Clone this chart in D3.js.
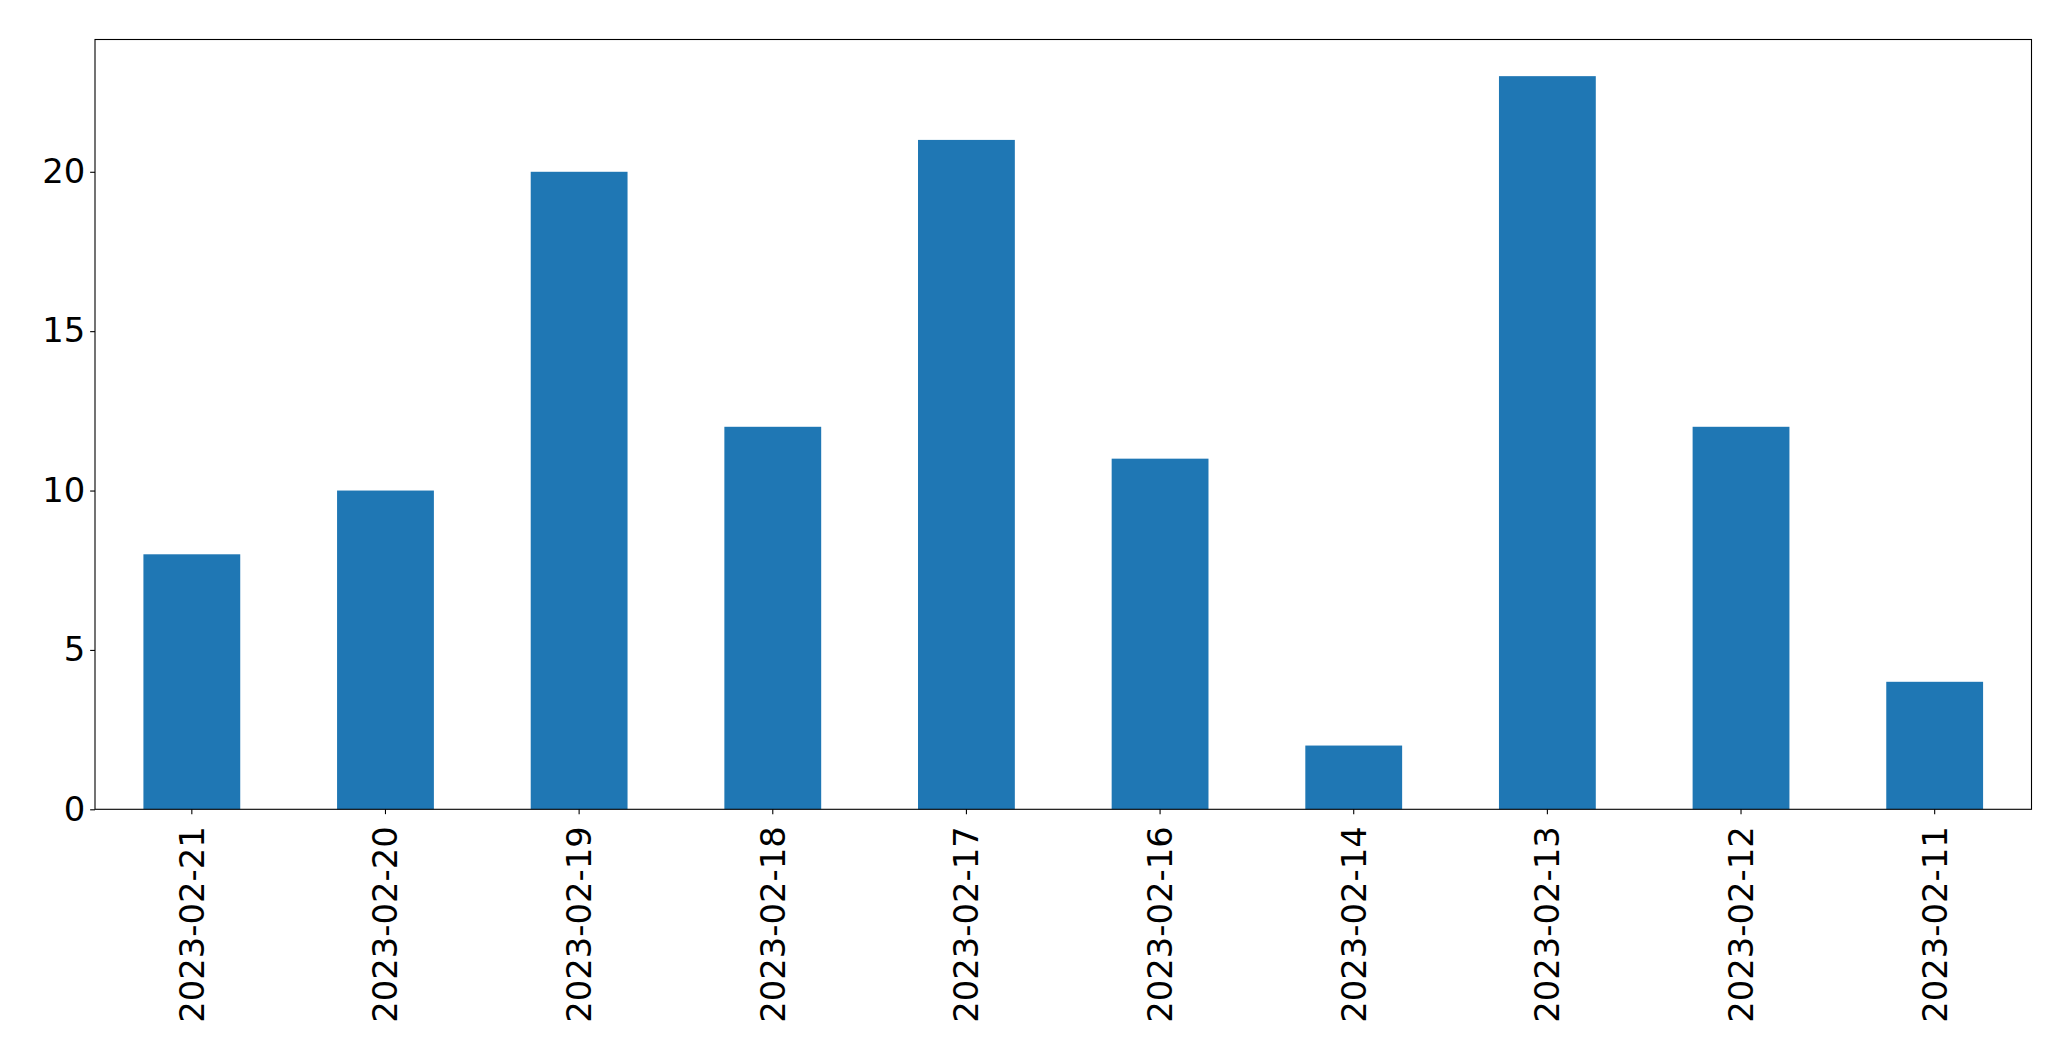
<!DOCTYPE html>
<html>
<head>
<meta charset="utf-8">
<script src="https://cdn.jsdelivr.net/npm/d3@7"></script>
<style>
  html, body { margin: 0; padding: 0; background: #fff; }
  svg { display: block; }
</style>
</head>
<body>
<script>
const categories = ["2023-02-21", "2023-02-20", "2023-02-19", "2023-02-18", "2023-02-17",
                    "2023-02-16", "2023-02-14", "2023-02-13", "2023-02-12", "2023-02-11"];
const values = [8, 10, 20, 12, 21, 11, 2, 23, 12, 4];
const yTicks = [0, 5, 10, 15, 20];

const W = 2071, H = 1061;
const margin = { left: 95, top: 39.5, right: W - 2031.5, bottom: H - 809.3 };
const fontSize = 33.8;

const svg = d3.select("body").append("svg").attr("width", W).attr("height", H);

const x = d3.scaleBand().domain(categories)
  .range([margin.left, W - margin.right]).paddingInner(0.5).paddingOuter(0.25);
const yMax = d3.max(values) * 1.05;
const y = d3.scaleLinear().domain([0, yMax]).range([H - margin.bottom, margin.top]);

svg.append("g").selectAll("rect").data(values).join("rect")
  .attr("x", (d, i) => x(categories[i]))
  .attr("width", x.bandwidth())
  .attr("y", d => y(d))
  .attr("height", d => y(0) - y(d))
  .attr("fill", "#1f77b4");

// axes
const yAxis = d3.axisLeft(y).tickValues(yTicks).tickSize(4.86).tickPadding(5).tickFormat(d3.format("d"));
const gy = svg.append("g").attr("transform", `translate(${margin.left},0)`).call(yAxis);
gy.select(".domain").remove();
gy.selectAll("line").attr("stroke", "#000").attr("stroke-width", 1.1);
gy.selectAll("text").attr("font-family", "DejaVu Sans").attr("font-size", fontSize).attr("fill", "#000");

const xAxis = d3.axisBottom(x).tickSize(4.86).tickPadding(0);
const gx = svg.append("g").attr("transform", `translate(0,${H - margin.bottom})`).call(xAxis);
gx.select(".domain").remove();
gx.selectAll("line").attr("stroke", "#000").attr("stroke-width", 1.1);
gx.selectAll("text")
  .attr("font-family", "DejaVu Sans").attr("font-size", fontSize).attr("fill", "#000")
  .attr("text-anchor", "end")
  .attr("transform", "translate(0,17) rotate(-90)")
  .attr("x", 0).attr("y", 0).attr("dy", "0.35em");

// frame
svg.append("rect")
  .attr("x", margin.left).attr("y", margin.top)
  .attr("width", W - margin.right - margin.left)
  .attr("height", H - margin.bottom - margin.top)
  .attr("fill", "none").attr("stroke", "#000").attr("stroke-width", 1.1);
</script>
</body>
</html>
